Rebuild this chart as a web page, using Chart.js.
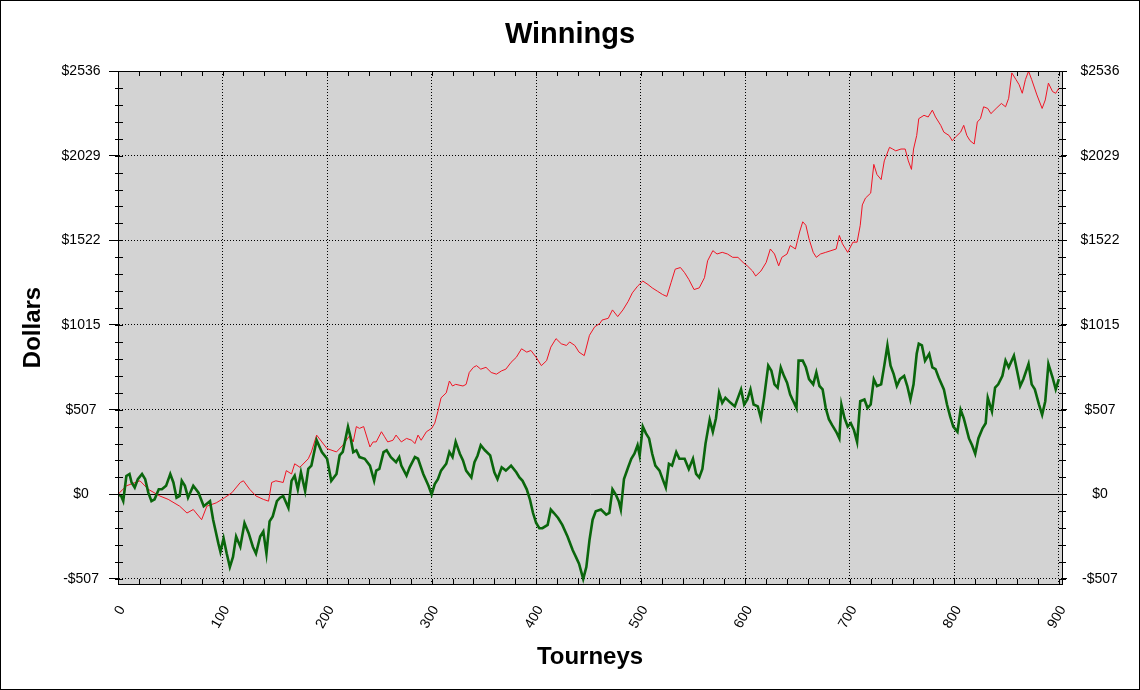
<!doctype html>
<html lang="en">
<head>
<meta charset="utf-8">
<title>Winnings</title>
<script src="https://cdn.jsdelivr.net/npm/chart.js"></script>
<style>
  html, body { margin: 0; padding: 0; background: #fff; }
  canvas { display: block; }
</style>
</head>
<body>
<canvas id="winnings" width="1140" height="690"></canvas>
<script>
  // red series (thin line)
  const redTourneys = [0, 8, 21, 29, 40, 48, 59, 66, 72, 80, 85, 94, 102, 109, 117, 120, 126, 132, 139, 144, 147, 151, 158, 161, 166, 169, 174, 182, 185, 190, 195, 200, 209, 215, 222, 225, 228, 231, 235, 239, 241, 244, 247, 252, 255, 258, 263, 266, 271, 276, 281, 284, 287, 290, 295, 300, 303, 306, 309, 314, 317, 320, 323, 330, 333, 336, 340, 343, 347, 352, 357, 362, 367, 371, 376, 381, 386, 391, 395, 400, 405, 410, 414, 419, 424, 429, 432, 437, 441, 446, 451, 456, 461, 463, 469, 473, 478, 483, 488, 492, 497, 502, 507, 511, 516, 521, 525, 529, 533, 538, 542, 546, 551, 556, 561, 564, 569, 573, 578, 583, 588, 593, 598, 602, 607, 610, 615, 620, 624, 628, 632, 635, 640, 643, 648, 652, 655, 658, 661, 665, 668, 672, 677, 682, 687, 690, 693, 698, 703, 707, 710, 712, 715, 720, 723, 726, 730, 733, 738, 741, 744, 749, 753, 756, 759, 761, 764, 766, 771, 775, 779, 782, 787, 790, 795, 798, 801, 806, 809, 812, 815, 819, 822, 825, 828, 832, 835, 840, 845, 849, 852, 855, 859, 862, 865, 868, 871, 874, 879, 884, 887, 890, 894, 897, 900];
  const redDollars = [0, 51, 81, 30, -10, -30, -71, -112, -91, -152, -71, -51, -20, 10, 71, 81, 30, -10, -30, -41, 71, 81, 71, 142, 122, 183, 162, 213, 254, 355, 314, 274, 254, 294, 355, 314, 406, 395, 406, 324, 284, 314, 314, 375, 345, 314, 324, 355, 314, 335, 324, 304, 355, 324, 375, 395, 426, 497, 578, 608, 679, 649, 659, 649, 659, 730, 761, 771, 750, 761, 730, 720, 740, 750, 791, 821, 872, 852, 862, 821, 771, 801, 882, 933, 902, 892, 913, 892, 852, 831, 953, 1004, 1024, 1044, 1055, 1105, 1065, 1105, 1156, 1207, 1247, 1278, 1257, 1237, 1217, 1197, 1186, 1268, 1349, 1359, 1328, 1288, 1227, 1237, 1298, 1399, 1460, 1440, 1450, 1440, 1420, 1420, 1389, 1369, 1338, 1308, 1338, 1389, 1470, 1440, 1369, 1420, 1440, 1491, 1470, 1572, 1633, 1612, 1531, 1450, 1420, 1440, 1450, 1460, 1470, 1551, 1501, 1450, 1511, 1511, 1612, 1734, 1775, 1805, 1977, 1916, 1886, 1998, 2079, 2069, 2058, 2069, 2069, 1998, 1947, 2069, 2150, 2251, 2271, 2261, 2302, 2261, 2211, 2170, 2150, 2119, 2140, 2170, 2211, 2150, 2119, 2099, 2231, 2251, 2322, 2312, 2281, 2312, 2342, 2322, 2373, 2525, 2485, 2454, 2403, 2485, 2535, 2485, 2393, 2312, 2363, 2464, 2413, 2403, 2434];

  // green series (thick line)
  const greenTourneys = [0, 3, 5, 8, 11, 13, 16, 19, 23, 26, 29, 32, 35, 39, 42, 46, 50, 53, 56, 59, 61, 64, 67, 72, 77, 82, 88, 91, 96, 98, 101, 104, 107, 110, 113, 117, 121, 125, 129, 132, 136, 139, 142, 145, 148, 152, 155, 158, 163, 166, 169, 172, 175, 179, 182, 185, 190, 195, 200, 204, 209, 212, 215, 220, 222, 225, 228, 231, 236, 241, 245, 247, 250, 254, 257, 261, 266, 269, 271, 276, 279, 284, 287, 292, 297, 300, 303, 306, 309, 314, 317, 320, 323, 327, 330, 333, 338, 341, 344, 347, 351, 356, 360, 363, 367, 371, 376, 381, 384, 387, 391, 394, 397, 400, 403, 406, 411, 414, 417, 421, 425, 430, 435, 438, 441, 445, 448, 451, 454, 457, 462, 467, 470, 473, 476, 479, 481, 484, 488, 491, 494, 497, 499, 502, 505, 508, 511, 514, 518, 521, 524, 527, 530, 534, 537, 542, 546, 550, 553, 556, 559, 562, 566, 569, 572, 575, 578, 581, 586, 590, 596, 599, 602, 605, 608, 612, 615, 618, 622, 625, 628, 631, 634, 637, 640, 643, 646, 649, 651, 655, 658, 661, 665, 668, 671, 674, 677, 680, 683, 687, 690, 692, 695, 698, 701, 704, 707, 710, 714, 717, 720, 723, 726, 730, 733, 736, 739, 742, 745, 748, 752, 755, 758, 761, 764, 766, 769, 772, 776, 779, 782, 785, 790, 793, 796, 799, 803, 806, 809, 814, 817, 820, 823, 827, 830, 832, 836, 839, 842, 846, 849, 852, 857, 860, 863, 866, 871, 874, 877, 881, 884, 887, 890, 894, 897, 900];
  const greenDollars = [0, -10, -40, 110, 122, 71, 41, 91, 122, 91, 10, -41, -30, 30, 30, 51, 122, 71, -20, -10, 81, 51, -20, 51, 10, -71, -41, -152, -294, -345, -264, -355, -436, -375, -253, -314, -172, -233, -314, -355, -253, -223, -355, -162, -132, -41, -20, -10, -81, 81, 112, 30, 132, 20, 152, 172, 324, 253, 213, 81, 122, 233, 254, 405, 355, 253, 264, 223, 213, 172, 81, 142, 152, 253, 264, 223, 193, 223, 172, 112, 162, 223, 213, 122, 51, 0, 61, 91, 142, 183, 254, 223, 314, 243, 203, 142, 101, 193, 233, 294, 264, 233, 132, 91, 162, 142, 172, 132, 101, 81, 30, -30, -112, -172, -203, -203, -183, -91, -112, -142, -183, -253, -335, -375, -416, -507, -436, -274, -152, -101, -91, -122, -112, 30, 0, -41, -91, 91, 162, 213, 243, 294, 233, 406, 365, 335, 243, 172, 142, 91, 41, 183, 172, 253, 213, 213, 152, 213, 122, 101, 152, 304, 446, 375, 456, 608, 548, 578, 548, 527, 629, 538, 568, 629, 538, 527, 456, 578, 771, 740, 659, 639, 760, 710, 669, 598, 558, 517, 801, 801, 761, 690, 659, 730, 649, 629, 517, 450, 416, 375, 335, 537, 456, 406, 426, 385, 314, 558, 568, 517, 538, 689, 649, 659, 771, 892, 771, 720, 649, 690, 710, 649, 568, 659, 842, 902, 892, 801, 842, 761, 750, 700, 629, 538, 467, 406, 375, 507, 456, 335, 294, 243, 335, 396, 426, 578, 497, 639, 659, 710, 801, 761, 831, 740, 649, 690, 781, 659, 629, 538, 477, 558, 781, 700, 629, 690];

  const xTickValues = [0, 100, 200, 300, 400, 500, 600, 700, 800, 900];
  const yTickValues = [-507.3, 0, 507.3, 1014.6, 1521.9, 2029.2, 2536.5];
  const yTickLabels = ['-$507', '$0', '$507', '$1015', '$1522', '$2029', '$2536'];

  const FONT = "'Liberation Sans', Arial, sans-serif";

  function pairs(xs, ys) {
    return xs.map((x, i) => ({ x: x, y: ys[i] }));
  }

  // gray plot area, frame, minor ticks and outer border
  const plotFrame = {
    id: 'plotFrame',
    beforeDraw(chart) {
      const a = chart.chartArea;
      const ctx = chart.ctx;
      ctx.save();
      ctx.fillStyle = '#d3d3d3';
      ctx.fillRect(a.left, a.top, a.right - a.left, a.bottom - a.top);
      ctx.restore();
    },
    afterDraw(chart) {
      const a = chart.chartArea;
      const ctx = chart.ctx;
      const xs = chart.scales.x;
      const ys = chart.scales.y;
      ctx.save();
      ctx.strokeStyle = '#000';
      ctx.lineWidth = 1;
      ctx.beginPath();
      // minor ticks on y, both sides
      const yStep = yTickValues[1] - yTickValues[0];
      for (let v = yTickValues[0]; v <= yTickValues[yTickValues.length - 1] + 1; v += yStep / 5) {
        const py = Math.round(ys.getPixelForValue(v)) + 0.5;
        ctx.moveTo(a.left - 3, py); ctx.lineTo(a.left + 5, py);
        ctx.moveTo(a.right - 3, py); ctx.lineTo(a.right + 4, py);
      }
      // minor ticks on x, top and bottom, pointing inwards
      for (let t = 20; t < xs.max; t += 20) {
        const px = Math.round(xs.getPixelForValue(t)) + 0.5;
        ctx.moveTo(px, a.top); ctx.lineTo(px, a.top + 5);
        ctx.moveTo(px, a.bottom); ctx.lineTo(px, a.bottom - 5);
      }
      ctx.stroke();
      ctx.strokeRect(Math.round(a.left) + 0.5, Math.round(a.top) + 0.5,
        Math.round(a.right - a.left), Math.round(a.bottom - a.top));
      ctx.strokeRect(0.5, 0.5, chart.width - 1, chart.height - 1);
      ctx.restore();
    }
  };

  const dotted = (c) => (c.tick && c.tick.value === 0) ? [] : [1, 2];

  new Chart(document.getElementById('winnings'), {
    type: 'line',
    data: {
      datasets: [
        {
          label: 'Green',
          data: pairs(greenTourneys, greenDollars),
          borderColor: '#0a660c',
          borderWidth: 2.6,
          pointRadius: 0,
          tension: 0
        },
        {
          label: 'Red',
          data: pairs(redTourneys, redDollars),
          borderColor: '#f01424',
          borderWidth: 1,
          pointRadius: 0,
          tension: 0
        }
      ]
    },
    options: {
      responsive: false,
      devicePixelRatio: 1,
      animation: false,
      layout: { padding: 0 },
      plugins: {
        legend: { display: false },
        tooltip: { enabled: false },
        title: {
          display: true,
          text: 'Winnings',
          color: '#000',
          font: { family: FONT, size: 29, weight: 'bold', lineHeight: 1.2 },
          padding: { top: 17.3, bottom: 18.9 }
        }
      },
      scales: {
        x: {
          type: 'linear',
          position: 'bottom',
          min: 0,
          max: 903,
          afterBuildTicks: (scale) => { scale.ticks = xTickValues.map(v => ({ value: v })); },
          afterFit: (scale) => { scale.height = 106; },
          ticks: {
            autoSkip: false,
            minRotation: 60,
            maxRotation: 60,
            padding: 19,
            labelOffset: 4,
            color: '#000',
            font: { family: FONT, size: 14 }
          },
          grid: { color: '#000', lineWidth: 1, drawTicks: false },
          border: { display: true, color: '#000', width: 1, dash: [1, 2] },
          title: {
            display: true,
            text: 'Tourneys',
            color: '#000',
            font: { family: FONT, size: 24, weight: 'bold', lineHeight: 1.2 },
            padding: { top: 0, bottom: 18 }
          }
        },
        y: {
          type: 'linear',
          position: 'left',
          min: -537.3,
          max: 2536.5,
          afterBuildTicks: (scale) => { scale.ticks = yTickValues.map(v => ({ value: v })); },
          afterFit: (scale) => { scale.width = 118; },
          ticks: {
            callback: (value, index) => yTickLabels[index],
            crossAlign: 'center',
            padding: 8.5,
            color: '#000',
            font: { family: FONT, size: 14 }
          },
          grid: { color: '#000', lineWidth: 1, tickLength: 9, tickColor: '#000' },
          border: { display: true, color: '#000', width: 1, dash: dotted },
          title: {
            display: true,
            text: 'Dollars',
            color: '#000',
            font: { family: FONT, size: 24, weight: 'bold', lineHeight: 1.2 },
            padding: { top: 19, bottom: 0 }
          }
        },
        y2: {
          type: 'linear',
          position: 'right',
          min: -537.3,
          max: 2536.5,
          afterBuildTicks: (scale) => { scale.ticks = yTickValues.map(v => ({ value: v })); },
          afterFit: (scale) => { scale.width = 78; },
          ticks: {
            callback: (value, index) => yTickLabels[index],
            crossAlign: 'center',
            padding: 13.5,
            color: '#000',
            font: { family: FONT, size: 14 }
          },
          grid: { drawOnChartArea: false, tickLength: 5, tickColor: '#000' },
          border: { display: true, color: '#000', width: 1 }
        }
      }
    },
    plugins: [plotFrame]
  });
</script>
</body>
</html>
